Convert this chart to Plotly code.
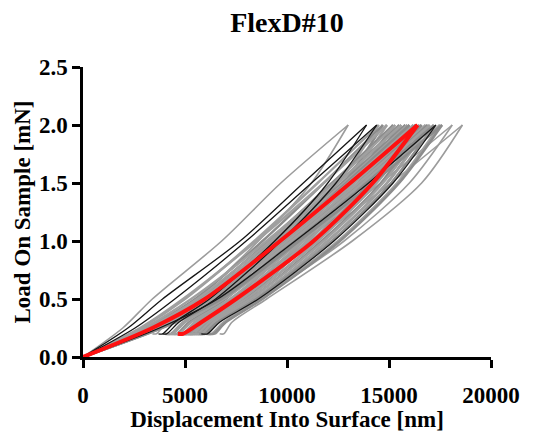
import plotly.graph_objects as go

LOAD_LEVELS = [0.0, 0.25, 0.5, 1.0, 1.5, 2.0]
UNLOAD_LEVELS = [2.0, 1.5, 1.0, 0.5, 0.3, 0.2, 0.2]

# Gray indentation curves: displacement (nm) at the load levels above
gray_load = [
    [0, 2850, 5000, 8400, 11500, 14500],
    [0, 3100, 5500, 8800, 11800, 14700],
    [0, 2800, 4900, 8500, 11800, 14900],
    [0, 3250, 5700, 9100, 12200, 15200],
    [0, 3000, 5300, 9000, 12300, 15300],
    [0, 3350, 5900, 9300, 12500, 15500],
    [0, 3200, 5600, 9200, 12500, 15600],
    [0, 3400, 6000, 9500, 12700, 15800],
    [0, 3300, 5800, 9400, 12800, 15900],
    [0, 3500, 6200, 9700, 12900, 16000],
    [0, 3350, 5900, 9600, 13000, 16200],
    [0, 3600, 6300, 9900, 13200, 16300],
    [0, 3450, 6100, 9800, 13300, 16500],
    [0, 3700, 6500, 10100, 13500, 16600],
    [0, 3600, 6300, 10000, 13500, 16800],
    [0, 3800, 6700, 10300, 13700, 16900],
    [0, 3650, 6400, 10200, 13700, 17000],
    [0, 3850, 6800, 10500, 13900, 17200],
    [0, 3900, 6900, 10700, 14200, 17500],
    [0, 3850, 6800, 10600, 14200, 17600],
]
gray_unload = [
    [14500, 12500, 9800, 6700, 4900, 4300, 4000],
    [14700, 12800, 10100, 7000, 5200, 4600, 4300],
    [14900, 12900, 10200, 6900, 5000, 4400, 4100],
    [15200, 13200, 10500, 7300, 5500, 4900, 4600],
    [15300, 13300, 10600, 7200, 5300, 4700, 4400],
    [15500, 13500, 10800, 7500, 5700, 5100, 4800],
    [15600, 13600, 10800, 7400, 5500, 4900, 4600],
    [15800, 13800, 11000, 7700, 5800, 5200, 4900],
    [15900, 13800, 11000, 7600, 5700, 5100, 4800],
    [16000, 14000, 11200, 7900, 6000, 5400, 5100],
    [16200, 14100, 11200, 7800, 5900, 5300, 5000],
    [16300, 14300, 11500, 8000, 6100, 5500, 5200],
    [16500, 14400, 11500, 8000, 6000, 5400, 5100],
    [16600, 14600, 11700, 8200, 6300, 5700, 5400],
    [16800, 14700, 11800, 8200, 6200, 5600, 5300],
    [16900, 14900, 12000, 8400, 6500, 5900, 5600],
    [17000, 14900, 12000, 8400, 6400, 5800, 5500],
    [17200, 15100, 12200, 8500, 6600, 6000, 5700],
    [17500, 15400, 12500, 8700, 6900, 6300, 6000],
    [17600, 15500, 12600, 8800, 7000, 6400, 6100],
]

# Dark (black) curves
black_load = [
    [0, 2200, 3900, 7700, 10800, 13900],
    [0, 2550, 4500, 8000, 11200, 14400],
    [0, 3750, 6600, 10400, 14000, 17300],
]
black_unload = [
    [13900, 12000, 9400, 6200, 4500, 3900, 3700],
    [14400, 12400, 9700, 6500, 4700, 4100, 3900],
    [17300, 15200, 12300, 8600, 6700, 6100, 5800],
]

# Light outlying curves
light_load = [
    [0, 1950, 3400, 6800, 9700, 13000],
    [0, 3600, 6300, 10800, 14600, 18100],
    [0, 3750, 6600, 11200, 15100, 18600],
]
light_unload = [
    [13000, 11200, 8600, 5600, 4100, 3600, 3400],
    [18100, 16000, 12800, 8700, 7000, 6500, 6300],
    [18600, 16600, 13200, 9000, 7300, 6900, 6700],
]

# Highlighted (red) curve
red_load = [0, 3400, 5980, 9660, 13100, 16400]
red_unload = [16400, 14200, 11300, 7500, 5800, 4900, 4650]

fig = go.Figure()


def add_curve(load, unload, color, width):
    fig.add_trace(go.Scatter(
        x=list(load) + [None] + list(unload),
        y=LOAD_LEVELS + [None] + UNLOAD_LEVELS,
        mode="lines",
        line=dict(color=color, width=width, shape="spline", smoothing=0.8),
        connectgaps=False,
        showlegend=False,
        hoverinfo="skip",
    ))


for ld, ul in zip(light_load, light_unload):
    add_curve(ld, ul, "#9c9c9c", 1.6)
for i, (ld, ul) in enumerate(zip(gray_load, gray_unload)):
    add_curve(ld, ul, "#8c8c8c" if i % 2 else "#a0a0a0", 2.4)
for ld, ul in zip(black_load, black_unload):
    add_curve(ld, ul, "#151515", 1.3)
add_curve(red_load, red_unload, "#ff1010", 4)

font_family = "Liberation Serif"
# the page body adds an 8px offset at top-left, so the figure is 552x424
fig.update_layout(
    width=552, height=424,
    margin=dict(l=75, r=69, t=59, b=75),
    paper_bgcolor="white", plot_bgcolor="white",
    title=dict(text="<b>FlexD#10</b>", x=(75 + 483) / 2 / 552, xanchor="center",
               y=1 - 14 / 424, yanchor="middle",
               font=dict(family=font_family, size=28, color="black")),
    font=dict(family=font_family, color="black"),
)
axis_common = dict(
    showgrid=False, zeroline=False, showline=True, linecolor="black", linewidth=2.5,
    ticks="outside", ticklen=8, tickwidth=2.5, tickcolor="black",
    tickfont=dict(family=font_family, size=23, color="black"),
    mirror=False, automargin=False,
)
fig.update_xaxes(range=[0, 20000], tickvals=[0, 5000, 10000, 15000, 20000],
                 ticktext=["<b>0</b>", "<b>5000</b>", "<b>10000</b>", "<b>15000</b>", "<b>20000</b>"],
                 ticklabelstandoff=8,
                 title=dict(text="<b>Displacement Into Surface [nm]</b>",
                            font=dict(family=font_family, size=23, color="black"), standoff=10),
                 **axis_common)
fig.update_yaxes(range=[0, 2.5], tickvals=[0, 0.5, 1.0, 1.5, 2.0, 2.5],
                 ticktext=["<b>0.0</b>", "<b>0.5</b>", "<b>1.0</b>", "<b>1.5</b>", "<b>2.0</b>", "<b>2.5</b>"],
                 title=dict(text="<b>Load On Sample [mN]</b>",
                            font=dict(family=font_family, size=23, color="black"), standoff=2),
                 **axis_common)

fig.write_html("out.html")
